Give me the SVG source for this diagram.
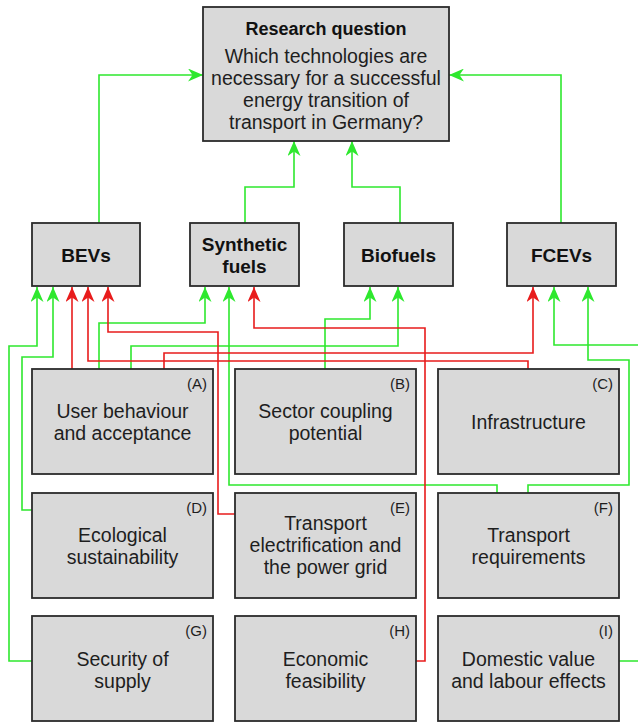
<svg xmlns="http://www.w3.org/2000/svg" width="638" height="723" viewBox="0 0 638 723">
<style>
.box{fill:#d9d9d9;stroke:#2b2b2b;stroke-width:1.8}
.t{font-family:"Liberation Sans",Arial,sans-serif;font-size:19.5px;fill:#1e1e1e;text-anchor:middle}
.b{font-family:"Liberation Sans",Arial,sans-serif;font-size:19px;font-weight:bold;fill:#111;text-anchor:middle}
.lbl{font-family:"Liberation Sans",Arial,sans-serif;font-size:15px;fill:#1e1e1e;text-anchor:end}
.g{fill:none;stroke:#2ee82e;stroke-width:1.6}
.r{fill:none;stroke:#e81c1c;stroke-width:1.6}
.g{marker-end:url(#ag)}
.r{marker-end:url(#ar)}
</style>
<defs>
<marker id="ag" markerUnits="userSpaceOnUse" markerWidth="15" markerHeight="13" viewBox="0 0 15 13" refX="15" refY="6.5" orient="auto">
<path d="M15,6.5 L0,0 L4.5,6.5 L0,13 Z" fill="#2ee82e"/>
</marker>
<marker id="ar" markerUnits="userSpaceOnUse" markerWidth="15" markerHeight="13" viewBox="0 0 15 13" refX="15" refY="6.5" orient="auto">
<path d="M15,6.5 L0,0 L4.5,6.5 L0,13 Z" fill="#e81c1c"/>
</marker>
</defs>
<rect width="638" height="723" fill="#ffffff"/>

<g id="connectors">
<path class="g" d="M99,223 V75 H203"/>
<path class="g" d="M561,223 V75 H449"/>
<path class="g" d="M245,223 V187 H294 V141"/>
<path class="g" d="M400,223 V187 H352 V141"/>
<path class="g" d="M33,661 H9 V346 H37 V287"/>
<path class="g" d="M32,510 H22 V357 H53 V287"/>
<path class="g" d="M99,369 V323 H205 V287"/>
<path class="g" d="M497,493 V485 H229 V287"/>
<path class="g" d="M325,369 V319 H370 V287"/>
<path class="g" d="M131,369 V346 H398 V287"/>
<path class="g" d="M619,661 H645 V345 H554 V287"/>
<path class="g" d="M528,493 V485 H629 V360 H588 V287"/>
<path class="r" d="M72,369 V287"/>
<path class="r" d="M528,369 V361 H88 V287"/>
<path class="r" d="M235,514 H218 V332 H108 V287"/>
<path class="r" d="M416,661 H425 V328 H254 V287"/>
<path class="r" d="M164,369 V353 H533 V287"/>
</g>

<g id="research">
<rect class="box" x="203" y="7" width="246" height="134"/>
<text class="b" x="326" y="35" style="font-size:18px">Research question</text>
<text class="t" x="326" y="63">Which technologies are</text>
<text class="t" x="326" y="85">necessary for a successful</text>
<text class="t" x="326" y="107">energy transition of</text>
<text class="t" x="326" y="129">transport in Germany?</text>
</g>

<g id="bevs">
<rect class="box" x="32" y="223" width="108" height="63"/>
<text class="b" x="86" y="262">BEVs</text>
</g>
<g id="synthetic-fuels">
<rect class="box" x="190" y="223" width="109" height="63"/>
<text class="b" x="244.5" y="251">Synthetic</text>
<text class="b" x="244.5" y="273">fuels</text>
</g>
<g id="biofuels">
<rect class="box" x="344" y="223" width="109" height="63"/>
<text class="b" x="398.5" y="262">Biofuels</text>
</g>
<g id="fcevs">
<rect class="box" x="507" y="223" width="109" height="63"/>
<text class="b" x="561.5" y="262">FCEVs</text>
</g>

<g id="A">
<rect class="box" x="32" y="369" width="181" height="105"/>
<text class="lbl" x="207" y="389">(A)</text>
<text class="t" x="122.5" y="418">User behaviour</text>
<text class="t" x="122.5" y="440">and acceptance</text>
</g>
<g id="B">
<rect class="box" x="235" y="369" width="181" height="105"/>
<text class="lbl" x="410" y="389">(B)</text>
<text class="t" x="325.5" y="418">Sector coupling</text>
<text class="t" x="325.5" y="440">potential</text>
</g>
<g id="C">
<rect class="box" x="438" y="369" width="181" height="105"/>
<text class="lbl" x="613" y="389">(C)</text>
<text class="t" x="528.5" y="429">Infrastructure</text>
</g>

<g id="D">
<rect class="box" x="32" y="493" width="181" height="105"/>
<text class="lbl" x="207" y="513">(D)</text>
<text class="t" x="122.5" y="542">Ecological</text>
<text class="t" x="122.5" y="564">sustainability</text>
</g>
<g id="E">
<rect class="box" x="235" y="493" width="181" height="105"/>
<text class="lbl" x="410" y="513">(E)</text>
<text class="t" x="325.5" y="530">Transport</text>
<text class="t" x="325.5" y="552">electrification and</text>
<text class="t" x="325.5" y="574">the power grid</text>
</g>
<g id="F">
<rect class="box" x="438" y="493" width="181" height="105"/>
<text class="lbl" x="613" y="513">(F)</text>
<text class="t" x="528.5" y="542">Transport</text>
<text class="t" x="528.5" y="564">requirements</text>
</g>

<g id="G">
<rect class="box" x="32" y="616" width="181" height="105"/>
<text class="lbl" x="207" y="636">(G)</text>
<text class="t" x="122.5" y="666">Security of</text>
<text class="t" x="122.5" y="688">supply</text>
</g>
<g id="H">
<rect class="box" x="235" y="616" width="181" height="105"/>
<text class="lbl" x="410" y="636">(H)</text>
<text class="t" x="325.5" y="666">Economic</text>
<text class="t" x="325.5" y="688">feasibility</text>
</g>
<g id="I">
<rect class="box" x="438" y="616" width="181" height="105"/>
<text class="lbl" x="613" y="636">(I)</text>
<text class="t" x="528.5" y="666">Domestic value</text>
<text class="t" x="528.5" y="688">and labour effects</text>
</g>
</svg>
